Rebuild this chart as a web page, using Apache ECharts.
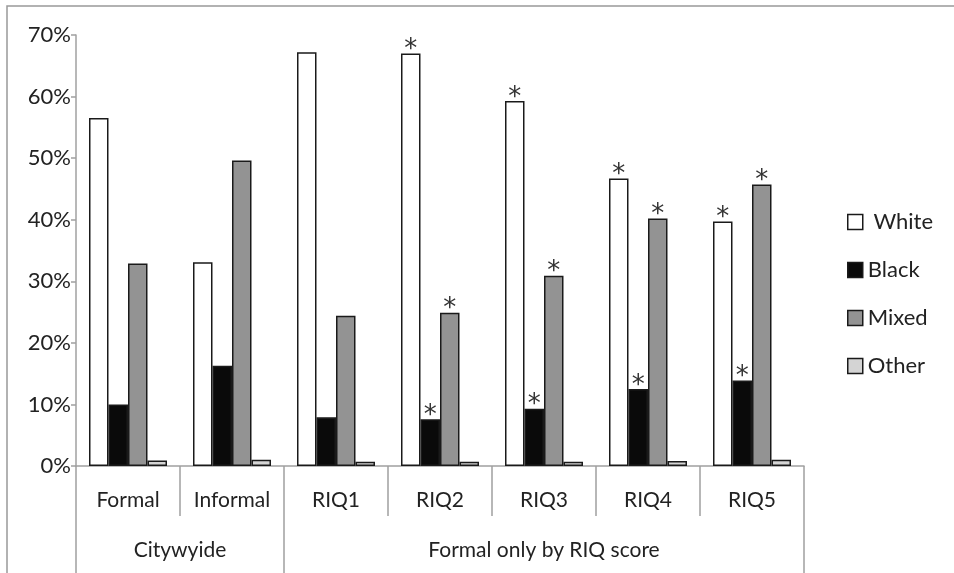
<!DOCTYPE html>
<html>
<head>
<meta charset="utf-8">
<script src="https://cdn.jsdelivr.net/npm/echarts@6/dist/echarts.min.js"></script>
<style>html,body{margin:0;padding:0;background:#fff}#c{width:954px;height:573px}</style>
</head>
<body>
<div id="c"></div>
<script>
const categories = ['Formal', 'Informal', 'RIQ1', 'RIQ2', 'RIQ3', 'RIQ4', 'RIQ5'];
const groupLabels = ['Citywyide', 'Formal only by RIQ score'];
const groupLabelPos = [1, 4.5];
const groupBounds = [0, 2, 7];
const yTicks = [0, 10, 20, 30, 40, 50, 60, 70];

const white = [56.5, 33.1, 67.2, 67.0, 59.3, 46.7, 39.7];
const black = [10.0, 16.3, 7.9, 7.6, 9.3, 12.5, 13.9];
const mixed = [32.9, 49.6, 24.4, 24.9, 30.9, 40.2, 45.7];
const other = [0.9, 1.0, 0.7, 0.7, 0.7, 0.8, 1.0];

const sigWhite = [0, 0, 0, 1, 1, 1, 1];
const sigBlack = [0, 0, 0, 1, 1, 1, 1];
const sigMixed = [0, 0, 0, 1, 1, 1, 1];
const sigOther = [0, 0, 0, 0, 0, 0, 0];

const FONT = 'Lato';
const TXT = '#222';
const AXC = '#a0a0a0';

function mk(name, data, sig, color) {
  return {
    name: name, type: 'bar', data: data,
    barGap: '0%', barCategoryGap: '25%',
    itemStyle: { color: color, borderColor: '#1a1a1a', borderWidth: 1.5 },
    label: {
      show: true, position: 'top', distance: -10,
      formatter: p => sig[p.dataIndex] ? '*' : '',
      fontFamily: 'DejaVu Sans', fontSize: 26, color: '#333'
    },
    emphasis: { disabled: true }
  };
}

const chart = echarts.init(document.getElementById('c'));
chart.setOption({
  animation: false,
  textStyle: { fontFamily: FONT },
  grid: { left: 76, right: 150, top: 35, bottom: 107 },
  legend: {
    orient: 'vertical', left: 842, top: 206, itemGap: 26,
    itemWidth: 15, itemHeight: 15, icon: 'rect',
    itemStyle: { borderColor: '#1a1a1a', borderWidth: 1.5 },
    textStyle: { fontFamily: FONT, fontSize: 22, color: TXT },
    formatter: n => n === 'White' ? ' ' + n : n,
    data: ['White', 'Black', 'Mixed', 'Other']
  },
  xAxis: [
    {
      type: 'category', data: categories,
      axisLine: { lineStyle: { color: AXC, width: 1.5 } },
      axisTick: { show: true, interval: 0, length: 50, lineStyle: { color: AXC, width: 1.5 } },
      axisLabel: { interval: 0, fontFamily: FONT, fontSize: 21, color: TXT, margin: 24 }
    },
    {
      type: 'value', min: 0, max: 7, position: 'bottom', offset: 50,
      axisLine: { show: false },
      splitLine: { show: false },
      axisTick: { show: true, customValues: groupBounds, length: 60, lineStyle: { color: AXC, width: 1.5 } },
      axisLabel: {
        customValues: groupLabelPos, margin: 24,
        fontFamily: FONT, fontSize: 21, color: TXT,
        formatter: v => groupLabels[groupLabelPos.indexOf(v)]
      }
    }
  ],
  yAxis: {
    type: 'value', min: yTicks[0], max: yTicks[yTicks.length - 1], interval: 10,
    axisLine: { show: true, lineStyle: { color: AXC, width: 1.5 } },
    axisTick: { show: true, length: 5, lineStyle: { color: AXC, width: 1.5 } },
    splitLine: { show: false },
    axisLabel: { formatter: '{value}%', fontFamily: FONT, fontSize: 22, color: TXT, margin: 5 }
  },
  graphic: [{
    type: 'rect', shape: { x: 7, y: 6, width: 1000, height: 700 },
    style: { fill: 'none', stroke: '#999', lineWidth: 1.5 }, silent: true
  }],
  series: [
    mk('White', white, sigWhite, '#ffffff'),
    mk('Black', black, sigBlack, '#0a0a0a'),
    mk('Mixed', mixed, sigMixed, '#939393'),
    mk('Other', other, sigOther, '#d4d4d4')
  ]
});
</script>
</body>
</html>
